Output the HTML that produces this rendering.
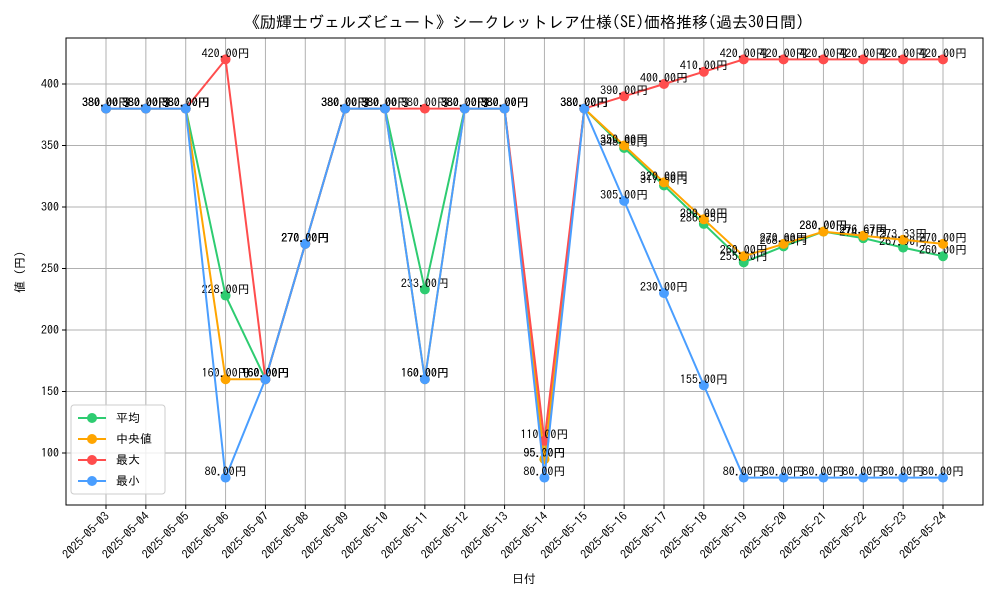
<!DOCTYPE html>
<html><head><meta charset="utf-8"><style>
body{margin:0;background:#fff}
svg text{font-family:"IPAGothic","Liberation Sans",sans-serif}
</style></head><body>
<svg id="c" width="1000" height="600" xmlns="http://www.w3.org/2000/svg"></svg>
<script>
const dates=["2025-05-03","2025-05-04","2025-05-05","2025-05-06","2025-05-07","2025-05-08","2025-05-09","2025-05-10","2025-05-11","2025-05-12","2025-05-13","2025-05-14","2025-05-15","2025-05-16","2025-05-17","2025-05-18","2025-05-19","2025-05-20","2025-05-21","2025-05-22","2025-05-23","2025-05-24"];
const meanVals=[380,380,380,228,160,270,380,380,233,380,380,95,380,348,317.5,286.25,255,268,280,274.67,267,260];
const medianVals=[380,380,380,160,160,270,380,380,160,380,380,95,380,350,320,290,260,270,280,276.67,273.33,270];
const maxVals=[380,380,380,420,160,270,380,380,380,380,380,110,380,390,400,410,420,420,420,420,420,420];
const minVals=[380,380,380,80,160,270,380,380,160,380,380,80,380,305,230,155,80,80,80,80,80,80];
const yTicks=[100,150,200,250,300,350,400];
const seriesNames=["平均","中央値","最大","最小"];
const NS="http://www.w3.org/2000/svg";
const svg=document.getElementById('c');
const L=66,R=983,T=38,B=505;
const x=i=>106+i*(943-106)/(dates.length-1);
const y=v=>453-(v-100)*1.23;
function el(t,a,p){const e=document.createElementNS(NS,t);for(const k in a)e.setAttribute(k,a[k]);(p||svg).appendChild(e);return e;}
// grid
yTicks.forEach(v=>{
 const g=el('line',{x1:L,x2:R,y1:y(v),y2:y(v),stroke:'#b0b0b0','stroke-width':1});
 
 
 el('line',{x1:L-4,x2:L,y1:y(v),y2:y(v),stroke:'#000'});
 const t=el('text',{x:L-7,y:y(v)+4,'text-anchor':'end','font-size':12});
 t.textContent=v;
 
 
});
dates.forEach((d,i)=>{
 const g=el('line',{x1:x(i),x2:x(i),y1:T,y2:B,stroke:'#b0b0b0','stroke-width':1});
 
 
 el('line',{x1:x(i),x2:x(i),y1:B,y2:B+4,stroke:'#000'});
 const t=el('text',{x:x(i)+4,y:B+12,'text-anchor':'end','font-size':12,transform:`rotate(-45 ${x(i)+4} ${B+12})`});
 t.textContent=d;
 
 
});
const frame=el('rect',{x:L,y:T,width:R-L,height:B-T,fill:'none',stroke:'#000','stroke-width':1});


const series=[[meanVals,'#2ecc71'],[medianVals,'#ffa500'],[maxVals,'#ff4d4d'],[minVals,'#4a9eff']];
series.forEach(([vals,col],si)=>{
 const g=el('g',{});
 
 
 el('polyline',{points:vals.map((v,i)=>x(i)+','+y(v)).join(' '),fill:'none',stroke:col,'stroke-width':2},g);
 vals.forEach((v,i)=>{
  const c=el('circle',{cx:x(i),cy:y(v),r:5,fill:col},g);
  
  
 });
 vals.forEach((v,i)=>{
  const t=el('text',{x:x(i),y:y(v)-2,'text-anchor':'middle','font-size':12},g);
  t.textContent=v.toFixed(2)+'円';
  
  
 });
});
const title=el('text',{x:524,y:28,'text-anchor':'middle','font-size':16});
title.textContent='《励輝士ヴェルズビュート》シークレットレア仕様(SE)価格推移(過去30日間)';


const xt=el('text',{x:524,y:583,'text-anchor':'middle','font-size':12});
xt.textContent='日付';


const yt=el('text',{x:24,y:272,'text-anchor':'middle','font-size':12,transform:'rotate(-90 24 272)'});
yt.textContent='値 (円)';


const lg=el('g',{});


el('rect',{x:71,y:405,width:94,height:89,rx:3,fill:'#fff','fill-opacity':0.8,stroke:'#ccc'},lg);
series.forEach(([v,col],i)=>{
 const yy=418+i*21;
 const e=el('g',{},lg);
 
 
 el('line',{x1:78,x2:106,y1:yy,y2:yy,stroke:col,'stroke-width':2},e);
 el('circle',{cx:92,cy:yy,r:5,fill:col},e);
 const t=el('text',{x:116,y:yy+4,'font-size':12},e);
 t.textContent=seriesNames[i];
});
</script>
</body></html>
